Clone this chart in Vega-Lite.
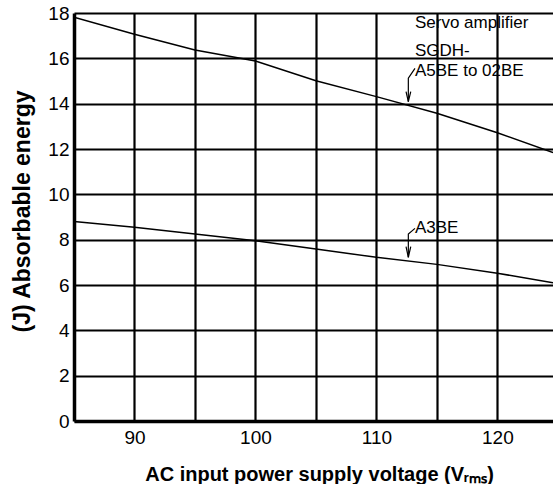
{
  "$schema": "https://vega.github.io/schema/vega-lite/v6.json",
  "width": 479,
  "height": 408,
  "autosize": {"type": "none"},
  "padding": {"left": 74, "top": 13, "right": 0, "bottom": 63},
  "background": "white",
  "config": {
    "view": {"stroke": null},
    "font": "Liberation Sans"
  },
  "datasets": {
    "curves": [
      {"series": "upper", "V": 85, "E": 17.81},
      {"series": "upper", "V": 90, "E": 17.06},
      {"series": "upper", "V": 95, "E": 16.37},
      {"series": "upper", "V": 100, "E": 15.88},
      {"series": "upper", "V": 105, "E": 15.01},
      {"series": "upper", "V": 110, "E": 14.31},
      {"series": "upper", "V": 115, "E": 13.58},
      {"series": "upper", "V": 120, "E": 12.72},
      {"series": "upper", "V": 124.6, "E": 11.84},
      {"series": "lower", "V": 85, "E": 8.80},
      {"series": "lower", "V": 90, "E": 8.55},
      {"series": "lower", "V": 95, "E": 8.25},
      {"series": "lower", "V": 100, "E": 7.95},
      {"series": "lower", "V": 105, "E": 7.59},
      {"series": "lower", "V": 110, "E": 7.22},
      {"series": "lower", "V": 115, "E": 6.91},
      {"series": "lower", "V": 120, "E": 6.52},
      {"series": "lower", "V": 124.6, "E": 6.10}
    ],
    "arrows": [
      {"seg": "u1", "o": 1, "V": 113.19, "E": 15.56},
      {"seg": "u1", "o": 2, "V": 112.64, "E": 15.12},
      {"seg": "u1", "o": 3, "V": 112.64, "E": 14.09},
      {"seg": "u2", "o": 1, "V": 112.45, "E": 14.53},
      {"seg": "u2", "o": 2, "V": 112.64, "E": 14.09},
      {"seg": "u2", "o": 3, "V": 112.84, "E": 14.53},
      {"seg": "l1", "o": 1, "V": 113.19, "E": 8.50},
      {"seg": "l1", "o": 2, "V": 112.64, "E": 8.25},
      {"seg": "l1", "o": 3, "V": 112.64, "E": 7.22},
      {"seg": "l2", "o": 1, "V": 112.45, "E": 7.69},
      {"seg": "l2", "o": 2, "V": 112.64, "E": 7.22},
      {"seg": "l2", "o": 3, "V": 112.84, "E": 7.69}
    ],
    "labels": [
      {"V": 113.19, "E": 17.32, "text": "Servo amplifier"},
      {"V": 113.19, "E": 16.10, "text": "SGDH-"},
      {"V": 113.19, "E": 15.22, "text": "A5BE to 02BE"},
      {"V": 113.19, "E": 8.31, "text": "A3BE"}
    ]
  },
  "layer": [
    {
      "data": {"name": "curves"},
      "mark": {"type": "line", "color": "black", "strokeWidth": 1.5, "clip": true},
      "encoding": {
        "x": {
          "field": "V", "type": "quantitative",
          "scale": {"domain": [85, 124.6], "nice": false, "zero": false},
          "axis": {
            "values": [90, 95, 100, 105, 110, 115, 120],
            "labelExpr": "datum.value % 10 == 0 ? datum.label : ''",
            "grid": true, "gridColor": "black", "gridWidth": 2.2, "gridOpacity": 1,
            "domain": true, "domainColor": "black", "domainWidth": 3.5,
            "ticks": false, "tickSize": 0,
            "labelFont": "Liberation Sans", "labelFontSize": 19, "labelColor": "black",
            "labelPadding": 7,
            "title": "AC input power supply voltage (Vᵣₘₛ)",
            "titleFont": "Liberation Sans", "titleFontSize": 20, "titleFontWeight": "bold",
            "titleColor": "black", "titleBaseline": "alphabetic", "titleY": 59, "titleX": 245
          }
        },
        "y": {
          "field": "E", "type": "quantitative",
          "scale": {"domain": [0, 18], "nice": false},
          "axis": {
            "values": [0, 2, 4, 6, 8, 10, 12, 14, 16, 18],
            "grid": true, "gridColor": "black", "gridWidth": 2.2, "gridOpacity": 1,
            "domain": true, "domainColor": "black", "domainWidth": 3.5,
            "ticks": false, "tickSize": 0,
            "labelFont": "Liberation Sans", "labelFontSize": 19, "labelColor": "black",
            "labelPadding": 5,
            "title": "(J) Absorbable energy",
            "titleFont": "Liberation Sans", "titleFontSize": 23, "titleFontWeight": "bold",
            "titleColor": "black", "titleAngle": 270, "titleBaseline": "middle",
            "titleAlign": "center", "titleX": -52, "titleY": 198
          }
        },
        "detail": {"field": "series"}
      }
    },
    {
      "data": {"name": "arrows"},
      "mark": {"type": "line", "color": "black", "strokeWidth": 1.2},
      "encoding": {
        "x": {"field": "V", "type": "quantitative"},
        "y": {"field": "E", "type": "quantitative"},
        "detail": {"field": "seg"},
        "order": {"field": "o"}
      }
    },
    {
      "data": {"name": "labels"},
      "mark": {"type": "text", "align": "left", "baseline": "alphabetic", "font": "Liberation Sans", "fontSize": 17, "color": "black"},
      "encoding": {
        "x": {"field": "V", "type": "quantitative"},
        "y": {"field": "E", "type": "quantitative"},
        "text": {"field": "text"}
      }
    }
  ]
}
